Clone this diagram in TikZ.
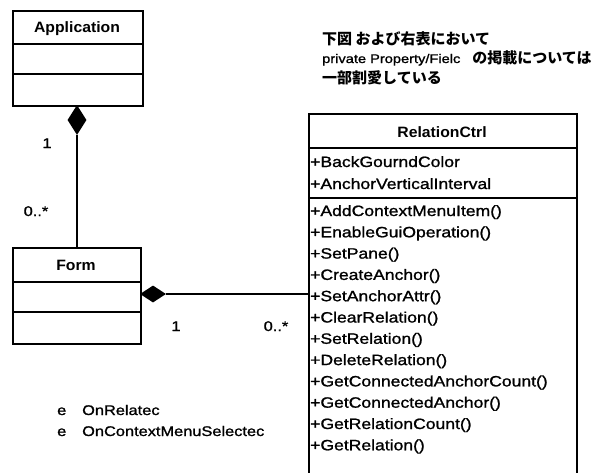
\documentclass[tikz,border=0pt]{standalone}
\usepackage{fontspec}
\setmainfont{Liberation Sans}
\newfontfamily\memberfont{Liberation Sans}[FakeStretch=1.17,FakeBold=1.2]
\newfontfamily\titlefont{Liberation Sans}[FakeStretch=1.05]
\newfontfamily\cjk{Noto Sans CJK JP}
\usetikzlibrary{shapes.geometric}
\begin{document}
\begin{tikzpicture}[x=1pt,y=-1pt,
  frame/.style={draw, line width=1.6pt, inner sep=0pt, anchor=north west},
  sep/.style={line width=1.3pt},
  title/.style={anchor=base, inner sep=0pt, font=\titlefont\bfseries\fontsize{15}{18}\selectfont},
  member/.style={anchor=base west, inner sep=0pt, font=\memberfont\fontsize{15}{18}\selectfont},
  mult/.style={anchor=base, inner sep=0pt, font=\memberfont\fontsize{14}{16}\selectfont},
  event/.style={anchor=base west, inner sep=0pt, font=\memberfont\fontsize{14}{16}\selectfont},
  note/.style={anchor=base west, inner sep=0pt, font=\cjk\bfseries\fontsize{15}{18}\selectfont},
  comp/.style={diamond, fill=black, inner sep=0pt},
  link/.style={line width=1.5pt},
]
\useasboundingbox (0,0) rectangle (604,472);
\clip (0,0) rectangle (604,472);

% class Application
\node[frame, minimum width=130pt, minimum height=95pt] (app) at (12,10) {};
\draw[sep] ([yshift=-34pt]app.north west) -- ([yshift=-34pt]app.north east);
\draw[sep] ([yshift=-64pt]app.north west) -- ([yshift=-64pt]app.north east);
\node[title] (appname) at (77,32) {Application};

% class Form
\node[frame, minimum width=128pt, minimum height=96pt] (form) at (12,247) {};
\draw[sep] ([yshift=-35pt]form.north west) -- ([yshift=-35pt]form.north east);
\draw[sep] ([yshift=-65pt]form.north west) -- ([yshift=-65pt]form.north east);
\node[title] (formname) at (76,270) {Form};

% class RelationCtrl (runs past the lower edge)
\node[frame, minimum width=268pt, minimum height=380pt] (rel) at (308,113) {};
\draw[sep] ([yshift=-35pt]rel.north west) -- ([yshift=-35pt]rel.north east);
\draw[sep] ([yshift=-85pt]rel.north west) -- ([yshift=-85pt]rel.north east);
\node[title] (relname) at (442,137) {RelationCtrl};

\node[member] (a1) at (310,167) {+BackGourndColor};
\node[member] (a2) at (310,189) {+AnchorVerticalInterval};

\foreach \op [count=\i from 0] in {AddContextMenuItem(),EnableGuiOperation(),SetPane(),CreateAnchor(),SetAnchorAttr(),ClearRelation(),SetRelation(),DeleteRelation(),GetConnectedAnchorCount(),GetConnectedAnchor(),GetRelationCount(),GetRelation()}
  \node[member] (m\i) at (310,{216+21.3*\i}) {+\op};

% composition Application -> Form
\node[comp, minimum width=19pt, minimum height=30pt] (d1) at (77,120) {};
\draw[link] (d1.south) -- (d1.south |- form.north);
\node[mult] (m1a) at (47,148) {1};
\node[mult] (m1b) at (36,216) {0..*};

% composition Form -> RelationCtrl
\node[comp, minimum width=26pt, minimum height=17pt] (d2) at (153,294) {};
\draw[link] (d2.east) -- (d2.east -| rel.west);
\node[mult] (m2a) at (176,331) {1};
\node[mult] (m2b) at (276,331) {0..*};

% events
\node[event] (e1) at (57,415) {\makebox[25pt][l]{e}OnRelatec};
\node[event] (e2) at (57,436) {\makebox[25pt][l]{e}OnContextMenuSelectec};

% note
\node[note] (n1) at (322,44) {下図 および右表において};
\node[note] (n2) at (322,63) {{\memberfont\mdseries\fontsize{12.5}{14}\selectfont private Property/Fielc}\hspace*{12pt}の掲載については};
\node[note] (n3) at (322,83) {一部割愛している};
\end{tikzpicture}
\end{document}
